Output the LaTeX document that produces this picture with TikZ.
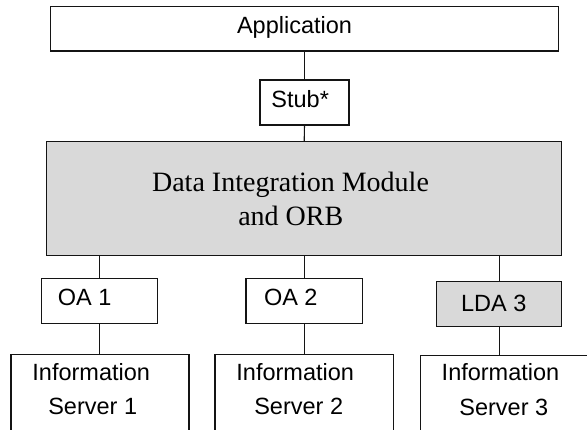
\documentclass[tikz,border=0pt]{standalone}
\usepackage{fontspec}
\setmainfont{Liberation Sans}
\newfontfamily\serifdim{Liberation Serif}
\definecolor{boxgray}{RGB}{217,217,217}
\definecolor{linecol}{RGB}{20,20,20}
\begin{document}
\begin{tikzpicture}[x=1pt,y=-1pt,
  box/.style={draw=linecol, line width=1.1pt, inner sep=0pt, outer sep=0pt, rectangle},
  grayfill/.style={fill=boxgray},
  openbox/.style={draw=none, inner sep=0pt, outer sep=0pt, rectangle},
  lbl/.style={inner sep=0pt, outer sep=0pt, anchor=base, font=\fontsize{23.5}{28}\selectfont},
  serlbl/.style={inner sep=0pt, outer sep=0pt, anchor=base, font=\serifdim\fontsize{28}{33}\selectfont},
  conn/.style={draw=linecol, line width=1.1pt}]
\useasboundingbox (0,0) rectangle (587,429);
\fill[white] (0,0) rectangle (587,429);

% boxes
\node[box, minimum width=507.6pt, minimum height=44.3pt] (app) at (304.5,28.85) {};
\node[box, minimum width=89pt, minimum height=45pt] (stub) at (304.5,102.5) {};
\node[box, grayfill, minimum width=515pt, minimum height=113.8pt] (dim) at (304.2,198.6) {};
\node[box, minimum width=115.6pt, minimum height=45pt] (oa1) at (99.5,300.8) {};
\node[box, minimum width=116.7pt, minimum height=45pt] (oa2) at (304.35,300.8) {};
\node[box, grayfill, minimum width=125pt, minimum height=45pt] (lda) at (499.2,304.2) {};
\node[openbox, minimum width=178pt, minimum height=90pt] (is1) at (100,399.3) {};
\node[openbox, minimum width=178.3pt, minimum height=90pt] (is2) at (304.15,399.3) {};
\node[openbox, minimum width=179.3pt, minimum height=90pt] (is3) at (510.35,400.5) {};
\foreach \n in {is1,is2,is3}
  \draw[conn] (\n.south west) -- (\n.north west) -- (\n.north east) -- (\n.south east);

% labels
\node[lbl] (tapp) at (294.5,33.3) {Application};
\node[lbl] (tstub) at (300.2,107.3) {Stub*};
\node[serlbl] (tdima) at (290.5,191.7) {Data Integration Module};
\node[serlbl] (tdimb) at (290.8,225) {and ORB};
\node[lbl] (toa1) at (84.7,305) {OA 1};
\node[lbl] (toa2) at (290.8,305) {OA 2};
\node[lbl] (tlda) at (493.8,311) {LDA 3};
\node[lbl] (tis1a) at (91.2,380) {Information};
\node[lbl] (tis1b) at (92.7,414) {Server 1};
\node[lbl] (tis2a) at (295.2,380) {Information};
\node[lbl] (tis2b) at (298.7,414) {Server 2};
\node[lbl] (tis3a) at (500.5,380.7) {Information};
\node[lbl] (tis3b) at (503.8,415.7) {Server 3};

% connectors
\draw[conn] (app.south) -- (stub.north);
\draw[conn] (stub.south) -- (dim.north);
\draw[conn] (dim.south -| oa1.north) -- (oa1.north);
\draw[conn] (dim.south -| oa2.north) -- (oa2.north);
\draw[conn] (dim.south -| lda.north) -- (lda.north);
\draw[conn] (oa1.south) -- (oa1.south |- is1.north);
\draw[conn] (oa2.south) -- (oa2.south |- is2.north);
\draw[conn] (lda.south) -- (lda.south |- is3.north);
\end{tikzpicture}
\end{document}
